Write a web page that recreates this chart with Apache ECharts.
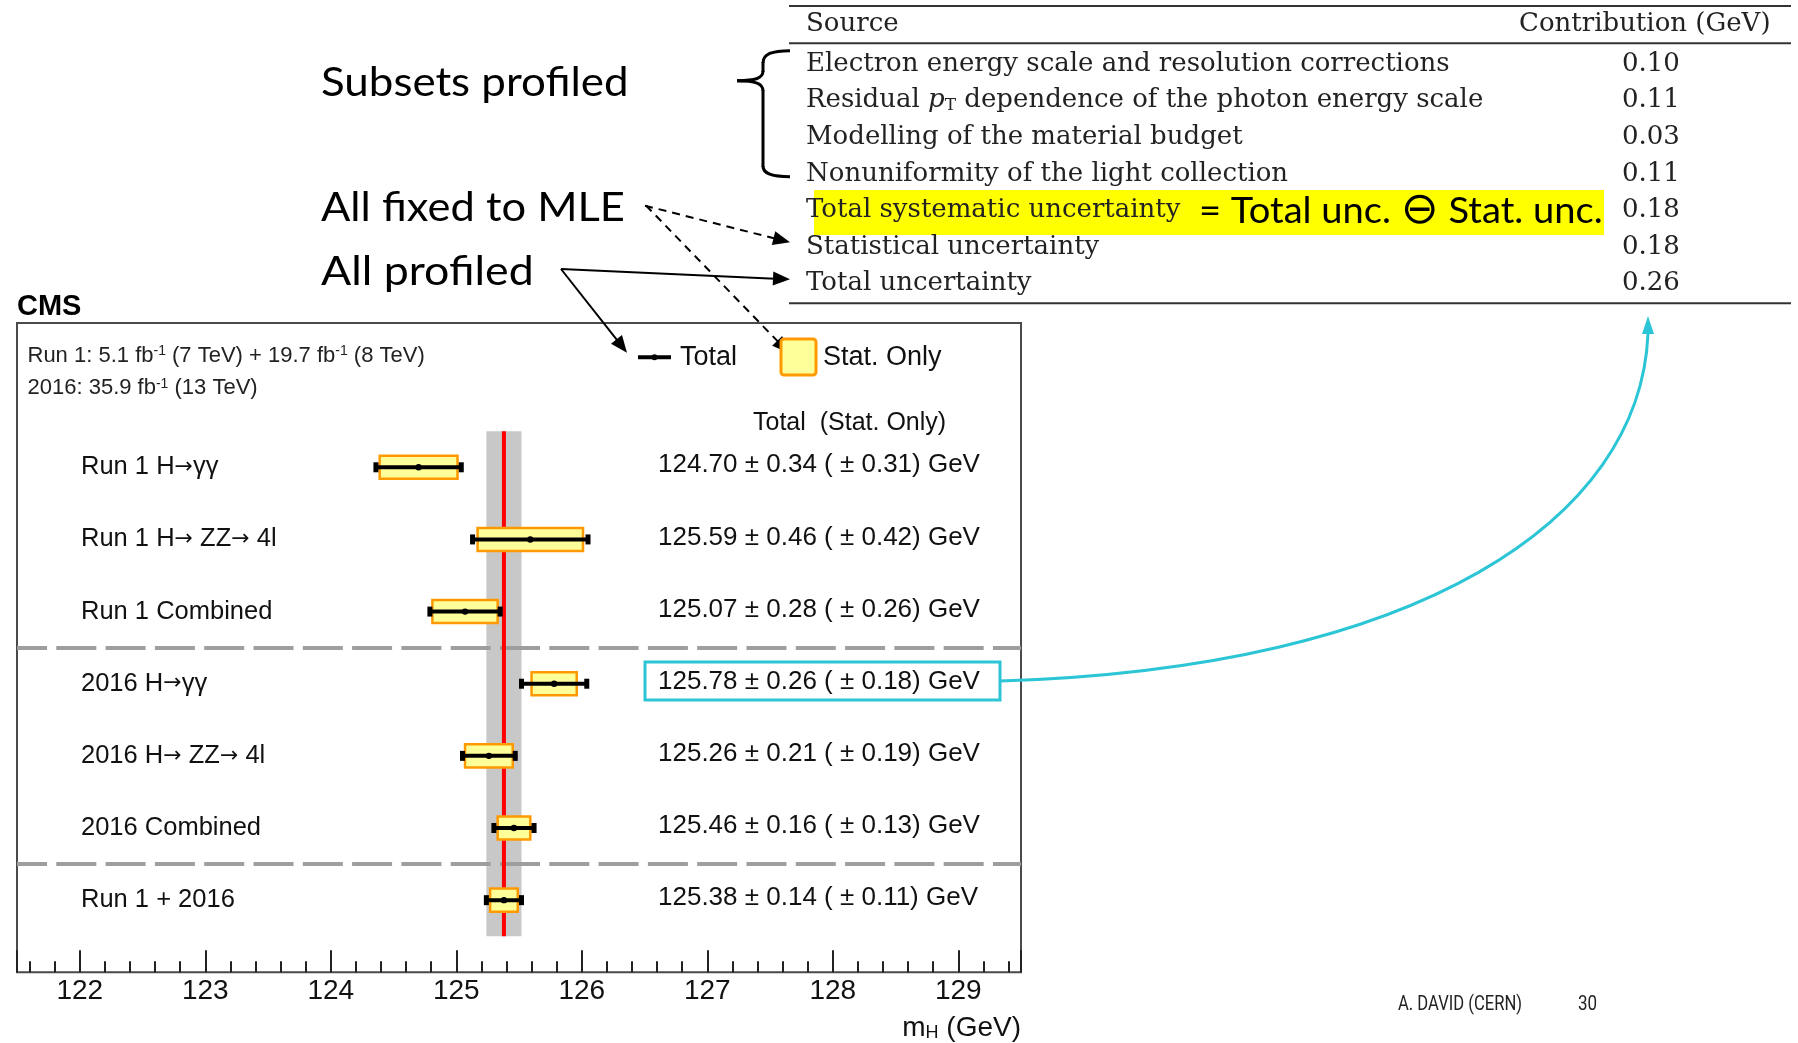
<!DOCTYPE html>
<html><head><meta charset="utf-8">
<script src="https://cdn.jsdelivr.net/npm/echarts@6/dist/echarts.min.js"></script>
<style>html,body{margin:0;padding:0;background:#fff}#c{width:1798px;height:1043px}</style>
</head><body><div id="c"></div>
<script>
// ---------------- data ----------------
const categories = ['Run 1 H\u2192\u03b3\u03b3', 'Run 1 H\u2192 ZZ\u2192 4l', 'Run 1 Combined',
  '2016 H\u2192\u03b3\u03b3', '2016 H\u2192 ZZ\u2192 4l', '2016 Combined', 'Run 1 + 2016'];
const massValues = [124.70, 125.59, 125.07, 125.78, 125.26, 125.46, 125.38];
const totalUnc = [0.34, 0.46, 0.28, 0.26, 0.21, 0.16, 0.14];
const statUnc = [0.31, 0.42, 0.26, 0.18, 0.19, 0.13, 0.11];
const groupBoundaries = [2.5, 5.5];
const combinedRow = 6;
const highlightedRow = 3;
const xRange = [121.5, 129.5];

const tableSources = ['Electron energy scale and resolution corrections',
  'Residual {it|p}{sub|T} dependence of the photon energy scale',
  'Modelling of the material budget',
  'Nonuniformity of the light collection',
  'Total systematic uncertainty',
  'Statistical uncertainty',
  'Total uncertainty'];
const tableContrib = ['0.10', '0.11', '0.03', '0.11', '0.18', '0.18', '0.26'];
const highlightedSource = 4;

// ---------------- helpers ----------------
const SANS = '"Liberation Sans", Arial, Helvetica, sans-serif';
const SERIF = '"DejaVu Serif", "Liberation Serif", serif';
const GEO = 'Lato, "Open Sans", sans-serif';

function txt(x, y, text, font, extra) {
  const st = Object.assign({ text: text, x: 0, y: 0, font: font, fill: '#111',
    align: 'left', verticalAlign: 'middle', textAlign: 'left', textVerticalAlign: 'middle' }, (extra && extra.style) || {});
  const el = { type: 'text', x: x, y: y, style: st, z: 10, silent: true };
  if (extra && extra.scaleX) el.scaleX = extra.scaleX;
  return el;
}
function seg(x1, y1, x2, y2, color, w, dash) {
  return { type: 'line', silent: true, z: 10, shape: { x1: x1, y1: y1, x2: x2, y2: y2 },
    style: { stroke: color, lineWidth: w, lineDash: dash || null } };
}
function bez(p, color, w) {
  return { type: 'bezierCurve', silent: true, z: 10,
    shape: { x1: p[0], y1: p[1], cpx1: p[2], cpy1: p[3], cpx2: p[4], cpy2: p[5], x2: p[6], y2: p[7] },
    style: { fill: null, stroke: color, lineWidth: w } };
}
function arrow(x1, y1, x2, y2, dashed, color, w) {
  color = color || '#000'; w = w || 2;
  const dx = x2 - x1, dy = y2 - y1, L = Math.hypot(dx, dy);
  const ux = dx / L, uy = dy / L, hl = 17, hw = 7;
  const bx = x2 - ux * hl, by = y2 - uy * hl;
  return [
    seg(x1, y1, bx + ux * 2, by + uy * 2, color, w, dashed ? [8, 6] : null),
    { type: 'polygon', silent: true, z: 10, shape: { points: [[x2, y2], [bx - uy * hw, by + ux * hw], [bx + uy * hw, by - ux * hw]] },
      style: { fill: color } }
  ];
}

// ---------------- graphics (slide annotations, table) ----------------
const g = [];
// left annotations
g.push(txt(321, 83, 'Subsets profiled', '41px ' + GEO, { scaleX: 1.07, style: { fill: '#000' } }));
g.push(txt(321, 208, 'All fixed to MLE', '41px ' + GEO, { scaleX: 1.06, style: { fill: '#000' } }));
g.push(txt(321, 272, 'All profiled', '41px ' + GEO, { scaleX: 1.09, style: { fill: '#000' } }));
// brace
g.push(bez([790, 50.7, 772, 50.7, 763, 54, 763, 63], '#000', 3));
g.push(seg(763, 62, 763, 72, '#000', 3));
g.push(bez([763, 71, 763, 78, 756, 80.7, 737, 80.7], '#000', 3));
g.push(bez([737, 80.7, 756, 80.7, 763, 84, 763, 91], '#000', 3));
g.push(seg(763, 90, 763, 167, '#000', 3));
g.push(bez([763, 166, 763, 173, 770, 176.7, 790, 176.7], '#000', 3));
// arrows
g.push(...arrow(645, 205.7, 790, 242.3, true));
g.push(...arrow(646, 205.5, 789, 353, true));
g.push(...arrow(561, 269, 790, 279.3, false));
g.push(...arrow(561, 269, 627, 352.7, false));
// table rules
[6, 43.3, 303.3].forEach(function (yy) { g.push(seg(789, yy, 1791, yy, '#333', 2)); });
// highlight
g.push({ type: 'rect', silent: true, z: 5, shape: { x: 814, y: 190, width: 790, height: 45 }, style: { fill: '#FFFF00' } });
// table header
g.push(txt(806, 24.5, 'Source', '26px ' + SERIF, { style: { fill: '#222' } }));
g.push(txt(1519, 24.5, 'Contribution (GeV)', '26px ' + SERIF, { style: { fill: '#222' } }));
const richSerif = {
  a: { fontSize: 26, fontFamily: SERIF, fill: '#222', color: '#222' },
  it: { fontSize: 26, fontFamily: SERIF, fontStyle: 'italic', fill: '#222', color: '#222' },
  sub: { fontSize: 17, fontFamily: SERIF, fill: '#222', color: '#222', verticalAlign: 'bottom' }
};
tableSources.forEach(function (s, i) {
  const yy = 64 + i * 36.6;
  const t = s.indexOf('{') >= 0 ? s.replace(/^([^{]+)/, '{a|$1}').replace(/\}([^{}]+)$/, '}{a|$1}') : '{a|' + s + '}';
  g.push(txt(806, yy, '', '25.7px ' + SERIF, { style: { text: t, rich: richSerif } }));
  g.push(txt(1622, yy, tableContrib[i], '26px ' + SERIF, { style: { fill: '#222' } }));
});
// annotation on the systematic row
g.push(txt(1199, 64 + highlightedSource * 36.6 + 1, '', '37px ' + GEO, { scaleX: 1.03, style: {
  text: '{g|= Total unc. }{o|\u2296}{g| Stat. unc.}',
  rich: { g: { fontSize: 37, fontFamily: GEO, fill: '#000', color: '#000' },
          o: { fontSize: 44, fontFamily: '"DejaVu Sans", sans-serif', fill: '#000', color: '#000' } } } }));
// cyan link from highlighted result to table
g.push(bez([1000, 681, 1420, 668, 1640, 520, 1648, 334], '#2CC5D6', 3));
g.push({ type: 'polygon', silent: true, z: 10, shape: { points: [[1648, 316], [1642, 334], [1654, 334]] }, style: { fill: '#2CC5D6' } });
// footer
g.push(txt(1398, 1005, 'A. DAVID (CERN)', '20px Roboto, sans-serif', { scaleX: 0.83, style: { fill: '#222' } }));
g.push(txt(1578, 1005, '30', '20px Roboto, sans-serif', { scaleX: 0.85, style: { fill: '#222' } }));
// CMS plot texts
g.push(txt(17, 307, 'CMS', 'bold 29px ' + SANS, { style: { fill: '#000' } }));
const richLumi = {
  n: { fontSize: 22, fontFamily: SANS, fill: '#222', color: '#222' },
  sup: { fontSize: 14, fontFamily: SANS, fill: '#222', color: '#222', verticalAlign: 'top' }
};
g.push(txt(27.5, 355.5, '', '22px ' + SANS, { style: { text: '{n|Run 1: 5.1 fb}{sup|-1}{n| (7 TeV) + 19.7 fb}{sup|-1}{n| (8 TeV)}', rich: richLumi } }));
g.push(txt(27.5, 388, '', '22px ' + SANS, { style: { text: '{n|2016: 35.9 fb}{sup|-1}{n| (13 TeV)}', rich: richLumi } }));
// legend
g.push(seg(638, 357.3, 671, 357.3, '#000', 4));
g.push({ type: 'circle', silent: true, z: 11, shape: { cx: 654.5, cy: 357.3, r: 3 }, style: { fill: '#000' } });
g.push(txt(680, 357.3, 'Total', '27px ' + SANS, { style: { fill: '#111' } }));
g.push({ type: 'rect', silent: true, z: 10, shape: { x: 781, y: 339, width: 35, height: 36, r: 3 }, style: { fill: '#FFFF99', stroke: '#FF9900', lineWidth: 3 } });
g.push(txt(823, 357.3, 'Stat. Only', '27px ' + SANS, { style: { fill: '#111' } }));
g.push(txt(753, 423, 'Total  (Stat. Only)', '25px ' + SANS, { style: { fill: '#111' } }));
// axis title
g.push(txt(1021, 1028, '', '28px ' + SANS, { style: { align: 'right', textAlign: 'right',
  text: '{n|m}{s|H}{n| (GeV)}', rich: { n: { fontSize: 28, fontFamily: SANS, fill: '#111', color: '#111' },
  s: { fontSize: 18, fontFamily: SANS, fill: '#111', color: '#111', verticalAlign: 'bottom' } } } }));
// highlight box around the selected result
g.push({ type: 'rect', silent: true, z: 10, shape: { x: 645, y: 662, width: 355, height: 38 }, style: { fill: null, stroke: '#2CC5D6', lineWidth: 3 } });

// ---------------- chart ----------------
const rows = massValues.map(function (v, i) { return [i, v, totalUnc[i], statUnc[i]]; });
const labelRich = {
  n: { fontSize: 25.5, fontFamily: SANS, fill: '#111', color: '#111' },
  ar: { fontSize: 22, fontFamily: '"DejaVu Sans", sans-serif', fill: '#111', color: '#111' }
};
function richLabel(s) {
  return s.split('\u2192').map(function (p) { return p ? '{n|' + p + '}' : ''; }).join('{ar|\u2192}');
}

const chart = echarts.init(document.getElementById('c'), null, { renderer: 'canvas' });
chart.setOption({
  animation: false,
  backgroundColor: '#fff',
  grid: { left: 17, top: 323, width: 1004, height: 649.3, show: true, borderColor: '#4a4a4a', borderWidth: 2, backgroundColor: 'transparent' },
  xAxis: {
    type: 'value', min: xRange[0], max: xRange[1], splitNumber: 8, position: 'bottom',
    axisLine: { show: false, onZero: false },
    axisTick: { show: true, inside: true, length: 22, lineStyle: { color: '#222', width: 2 } },
    minorTick: { show: true, splitNumber: 5, length: 11, lineStyle: { color: '#222', width: 2 } },
    splitLine: { show: false },
    axisLabel: { fontSize: 28, fontFamily: SANS, color: '#111', margin: 5,
      formatter: function (v) { return Math.abs(v - Math.round(v)) < 1e-6 ? String(Math.round(v)) : ''; } }
  },
  yAxis: { type: 'value', min: -2, max: 7, inverse: true, show: false },
  graphic: { elements: g },
  series: [
    { // combined band
      type: 'custom', z: 1, silent: true,
      data: [[massValues[combinedRow], totalUnc[combinedRow]]],
      markLine: {
        silent: true, symbol: 'none', z: 2, label: { show: false },
        lineStyle: { color: '#9E9E9E', width: 4, type: [40, 9.3], dashOffset: 10, opacity: 1 },
        data: groupBoundaries.map(function (b) { return { yAxis: b }; })
      },
      renderItem: function (params, api) {
        const v = api.value(0), e = api.value(1);
        const tl = api.coord([v - e, -0.5]), br = api.coord([v + e, categories.length - 0.5]);
        return { type: 'rect', shape: { x: tl[0], y: tl[1], width: br[0] - tl[0], height: br[1] - tl[1] }, style: { fill: '#C8C8C8' } };
      }
    },
    { // combined central value
      type: 'custom', z: 3, silent: true,
      data: [[massValues[combinedRow]]],
      renderItem: function (params, api) {
        const v = api.value(0);
        const a = api.coord([v, -0.5]), b = api.coord([v, categories.length - 0.5]);
        return { type: 'line', shape: { x1: a[0], y1: a[1], x2: b[0], y2: b[1] }, style: { stroke: '#FF0000', lineWidth: 4 } };
      }
    },
    { // measurements
      type: 'custom', z: 4, silent: true,
      data: rows,
      renderItem: function (params, api) {
        const i = api.value(0), v = api.value(1), tot = api.value(2), st = api.value(3);
        const c = api.coord([v, i]);
        const lo = api.coord([v - tot, i]), hi = api.coord([v + tot, i]);
        const sl = api.coord([v - st, i]), sh = api.coord([v + st, i]);
        const h = api.size([0, 1])[1] * 0.32;
        return { type: 'group', children: [
          { type: 'rect', shape: { x: sl[0], y: c[1] - h / 2, width: sh[0] - sl[0], height: h }, style: { fill: '#FFFF99', stroke: '#FF9900', lineWidth: 2.5 } },
          { type: 'line', shape: { x1: lo[0], y1: c[1], x2: hi[0], y2: c[1] }, style: { stroke: '#000', lineWidth: 4 } },
          { type: 'rect', shape: { x: lo[0] - 2.5, y: c[1] - 5, width: 5, height: 10 }, style: { fill: '#000' } },
          { type: 'rect', shape: { x: hi[0] - 2.5, y: c[1] - 5, width: 5, height: 10 }, style: { fill: '#000' } },
          { type: 'circle', shape: { cx: c[0], cy: c[1], r: 3.2 }, style: { fill: '#000' } },
          { type: 'text', x: 81, y: c[1], style: { text: richLabel(categories[i]), rich: labelRich, font: '25.5px ' + SANS, fill: '#111', align: 'left', verticalAlign: 'middle' } },
          { type: 'text', x: 658, y: c[1] - 2, style: { text: v.toFixed(2) + ' \u00b1 ' + tot.toFixed(2) + ' ( \u00b1 ' + st.toFixed(2) + ') GeV', font: '26px ' + SANS, fill: '#111', align: 'left', verticalAlign: 'middle' } }
        ] };
      }
    }
  ]
});
</script></body></html>
